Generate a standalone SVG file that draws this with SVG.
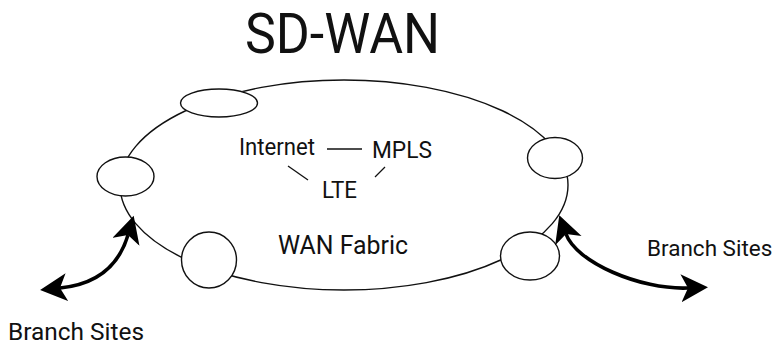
<svg xmlns="http://www.w3.org/2000/svg" width="776" height="346" viewBox="0 0 776 346">
<style>
.t{font-family:Roboto,"Open Sans","Liberation Sans",sans-serif;fill:#111}
.ring{fill:none;stroke:#111;stroke-width:1.4}
.node{fill:#fff;stroke:#111;stroke-width:1.4}
.link{stroke:#111;stroke-width:1.3;fill:none}
.arr{fill:none;stroke:#000;stroke-width:3.6;marker-start:url(#ah);marker-end:url(#ah)}
</style>
<defs>
<marker id="ah" markerUnits="userSpaceOnUse" markerWidth="28" markerHeight="30" refX="7" refY="14" orient="auto-start-reverse" viewBox="0 0 28 30">
<path d="M27,14 L0,0 L7,14 L0,28 Z" fill="#000"/>
</marker>
</defs>
<rect width="776" height="346" fill="#fff"/>
<text class="t" x="245" y="53" font-size="56" textLength="195" lengthAdjust="spacingAndGlyphs">SD-WAN</text>
<g id="fabric">
<ellipse class="ring" cx="344" cy="185" rx="224" ry="105"/>
<text class="t" x="278" y="254" font-size="26" textLength="130" lengthAdjust="spacingAndGlyphs">WAN Fabric</text>
</g>
<g id="node-top"><ellipse class="node" cx="219" cy="103" rx="38.5" ry="14"/></g>
<g id="node-left"><ellipse class="node" cx="125.5" cy="176.5" rx="28.5" ry="19.5"/></g>
<g id="node-bottom-left"><ellipse class="node" cx="209" cy="260" rx="27.5" ry="28"/></g>
<g id="node-right"><ellipse class="node" cx="555" cy="158" rx="27.5" ry="20.5"/></g>
<g id="node-bottom-right"><ellipse class="node" cx="530" cy="256" rx="29.5" ry="24"/></g>
<g id="internet"><text class="t" x="239" y="155" font-size="23" textLength="76" lengthAdjust="spacingAndGlyphs">Internet</text></g>
<g id="mpls"><text class="t" x="372" y="158" font-size="24" textLength="60" lengthAdjust="spacingAndGlyphs">MPLS</text></g>
<g id="lte"><text class="t" x="322" y="198" font-size="23" textLength="35" lengthAdjust="spacingAndGlyphs">LTE</text></g>
<g id="branch-left"><text class="t" x="8" y="340" font-size="24.5" textLength="136" lengthAdjust="spacingAndGlyphs">Branch Sites</text></g>
<g id="branch-right"><text class="t" x="647" y="256" font-size="22.5">Branch Sites</text></g>
<g id="connectors">
<line class="link" x1="327" y1="149" x2="362" y2="149"/>
<line class="link" x1="288" y1="166" x2="308" y2="180"/>
<line class="link" x1="385" y1="167" x2="375" y2="177"/>
<path class="arr" d="M128,235 C120,262 100,284 60,288"/>
<path class="arr" d="M566,234 C576,262 640,290 688,288"/>
</g>
</svg>
